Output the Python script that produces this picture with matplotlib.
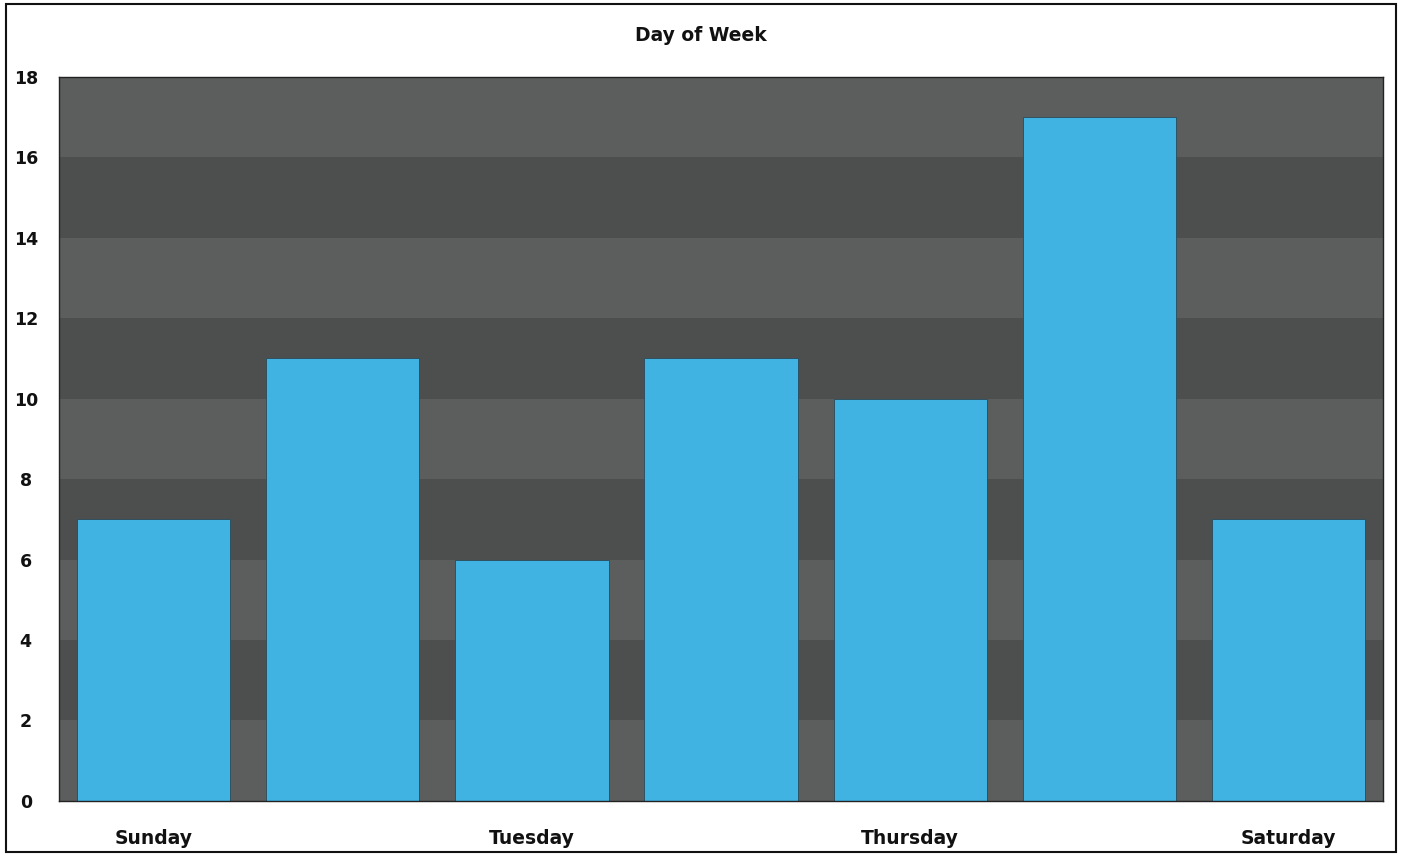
import numpy as np
import matplotlib.pyplot as plt

days = ['Sunday', 'Monday', 'Tuesday', 'Wednesday', 'Thursday', 'Friday', 'Saturday']
counts = [7, 11, 6, 11, 10, 17, 7]
yticks = [0, 2, 4, 6, 8, 10, 12, 14, 16, 18]

fig = plt.figure(figsize=(14.02, 8.55), dpi=100)
ax = fig.add_axes([0.0421, 0.0632, 0.9444, 0.847])

# alternating horizontal bands behind the bars
for i in range(len(yticks) - 1):
    c = '#5b5e5c' if i % 2 == 0 else '#4c4f4d'
    ax.axhspan(yticks[i], yticks[i + 1], color=c, zorder=0, lw=0)

x = np.arange(len(days))
ax.bar(x, counts, width=0.81, color='#40b3e3', edgecolor='#2a4a58', linewidth=0.6, zorder=2)

ax.set_xlim(-0.5, 6.5)
ax.set_ylim(0, 18)
ax.set_yticks(yticks)
ax.set_xticks(x[::2])
ax.set_xticklabels(days[::2], fontsize=13.5, fontweight='bold', color='#111111')
for lab in ax.get_yticklabels():
    lab.set_fontsize(12.5)
    lab.set_fontweight('bold')
    lab.set_color('#111111')
    lab.set_ha('center')
ax.tick_params(axis='y', length=0, pad=24)
ax.tick_params(axis='x', length=0, pad=20)
for s in ax.spines.values():
    s.set_color('#222222')
    s.set_linewidth(1)

fig.text(0.5, 0.958, 'Day of Week', ha='center', va='center',
         fontsize=13.5, fontweight='bold', color='#111111')

# frame round the whole figure
fig.patches.append(plt.Rectangle((0.004, 0.004), 0.992, 0.991, transform=fig.transFigure,
                                 fill=False, edgecolor='#111111', lw=1.5))

fig.savefig('out.png', dpi=100)
